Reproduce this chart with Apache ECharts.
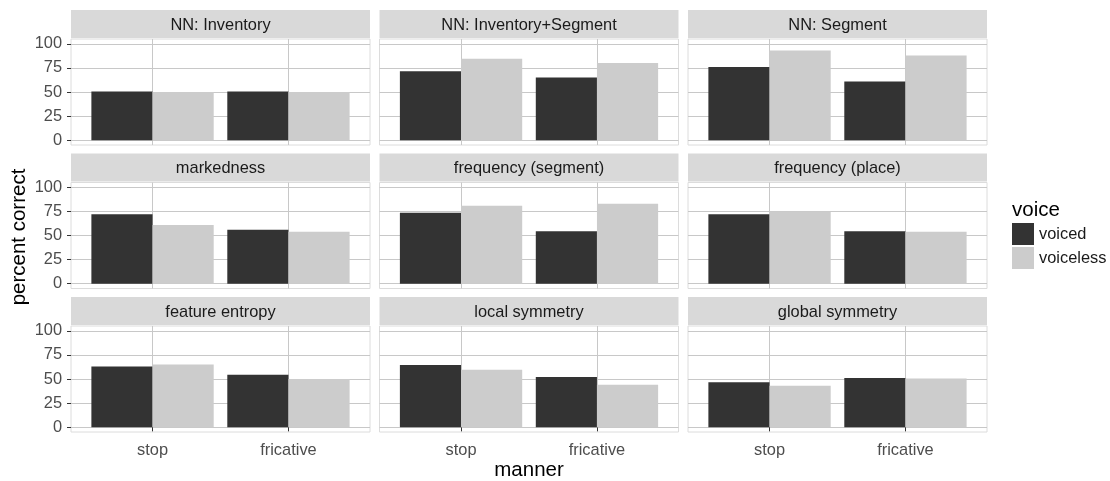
<!DOCTYPE html>
<html>
<head>
<meta charset="utf-8">
<script src="https://cdn.jsdelivr.net/npm/echarts@6/dist/echarts.min.js"></script>
<style>
html,body{margin:0;padding:0;background:#ffffff;}
#chart{width:1110px;height:481px;}
</style>
</head>
<body>
<div id="chart"></div>
<script>
// ---- data ----
const panels = ['NN: Inventory', 'NN: Inventory+Segment', 'NN: Segment',
                'markedness', 'frequency (segment)', 'frequency (place)',
                'feature entropy', 'local symmetry', 'global symmetry'];
const manners = ['stop', 'fricative'];
const voiceLevels = ['voiced', 'voiceless'];
// [stop, fricative] per panel
const voiced = [[50.5, 50.5], [71.5, 65], [76, 61],
                [72, 56], [73.5, 54.5], [72, 54.5],
                [63, 54.5], [64.5, 52], [46.5, 51]];
const voiceless = [[50, 50], [84.5, 80], [93, 88],
                   [61, 54], [81, 83], [75, 54],
                   [65, 50], [59.5, 44], [43, 50.5]];
const yTicks = [0, 25, 50, 75, 100];
const yTitle = 'percent correct';
const xTitle = 'manner';
const legendTitle = 'voice';

// ---- layout / style ----
const FONT = '"Liberation Sans", Arial, sans-serif';
const colLeft = [71, 379.5, 688], panelW = 299;
const rowTop = [39, 182.5, 326], panelH = 106;
const stripH = 28, stripGap = 1;
const fills = { voiced: '#333333', voiceless: '#cccccc' };
const gridColor = '#c8c8c8';
const borderColor = '#dcdcdc';

const grids = [], xAxes = [], yAxes = [], series = [], graphics = [];
const byVoice = { voiced: voiced, voiceless: voiceless };

panels.forEach((name, i) => {
  const r = Math.floor(i / 3), c = i % 3;
  grids.push({
    left: colLeft[c], top: rowTop[r], width: panelW, height: panelH,
    show: true, backgroundColor: '#ffffff', borderColor: borderColor, borderWidth: 1,
    containLabel: false, outerBoundsMode: 'none'
  });
  xAxes.push({
    gridIndex: i, type: 'value', min: 0.4, max: 2.6,
    axisLine: { show: false },
    axisTick: { show: r === 2, customValues: [1, 2], length: 4, lineStyle: { color: '#333333', width: 1 } },
    axisLabel: { show: r === 2, customValues: [1, 2], margin: 10,
      formatter: v => manners[Math.round(v) - 1] || '',
      color: '#4d4d4d', fontSize: 16.4, fontFamily: FONT },
    splitLine: { show: true, lineStyle: { color: gridColor, width: 1 } }
  });
  yAxes.push({
    gridIndex: i, type: 'value', min: -5, max: 105,
    axisLine: { show: false },
    axisTick: { show: c === 0, customValues: yTicks, length: 4, lineStyle: { color: '#333333', width: 1 } },
    axisLabel: { show: c === 0, customValues: yTicks, margin: 9,
      color: '#4d4d4d', fontSize: 16.4, fontFamily: FONT },
    splitLine: { show: true, lineStyle: { color: gridColor, width: 1 } }
  });
  voiceLevels.forEach(v => {
    series.push({
      type: 'bar', name: v, xAxisIndex: i, yAxisIndex: i,
      data: manners.map((m, k) => [k + 1, byVoice[v][i][k]]),
      barWidth: '45%', barGap: '0%',
      itemStyle: { color: fills[v] },
      silent: true
    });
  });
  // strip
  const sy = rowTop[r] - stripGap - stripH;
  graphics.push({
    type: 'rect', silent: true,
    shape: { x: colLeft[c], y: sy, width: panelW, height: stripH },
    style: { fill: '#d9d9d9' }
  });
  graphics.push({
    type: 'text', silent: true, x: colLeft[c] + panelW / 2, y: sy + stripH / 2 + 1,
    style: { text: name, fill: '#1a1a1a', font: '16.4px ' + FONT, textAlign: 'center', textVerticalAlign: 'middle' }
  });
});

// axis titles and legend title
graphics.push({
  type: 'text', silent: true, x: 19, y: 237, rotation: Math.PI / 2,
  style: { text: yTitle, fill: '#000000', font: '20.5px ' + FONT, textAlign: 'center', textVerticalAlign: 'middle' }
});
graphics.push({
  type: 'text', silent: true, x: 529, y: 470,
  style: { text: xTitle, fill: '#000000', font: '20.5px ' + FONT, textAlign: 'center', textVerticalAlign: 'middle' }
});
graphics.push({
  type: 'text', silent: true, x: 1012, y: 210,
  style: { text: legendTitle, fill: '#000000', font: '20.5px ' + FONT, textAlign: 'left', textVerticalAlign: 'middle' }
});

const chart = echarts.init(document.getElementById('chart'), null, { renderer: 'canvas' });
chart.setOption({
  animation: false,
  backgroundColor: '#ffffff',
  grid: grids,
  xAxis: xAxes,
  yAxis: yAxes,
  series: series,
  legend: {
    data: voiceLevels, orient: 'vertical', left: 1012, top: 223, padding: 0,
    itemWidth: 22, itemHeight: 22, itemGap: 2, icon: 'rect', selectedMode: false,
    textStyle: { fontSize: 16.4, color: '#1a1a1a', fontFamily: FONT }
  },
  graphic: graphics
});
</script>
</body>
</html>
